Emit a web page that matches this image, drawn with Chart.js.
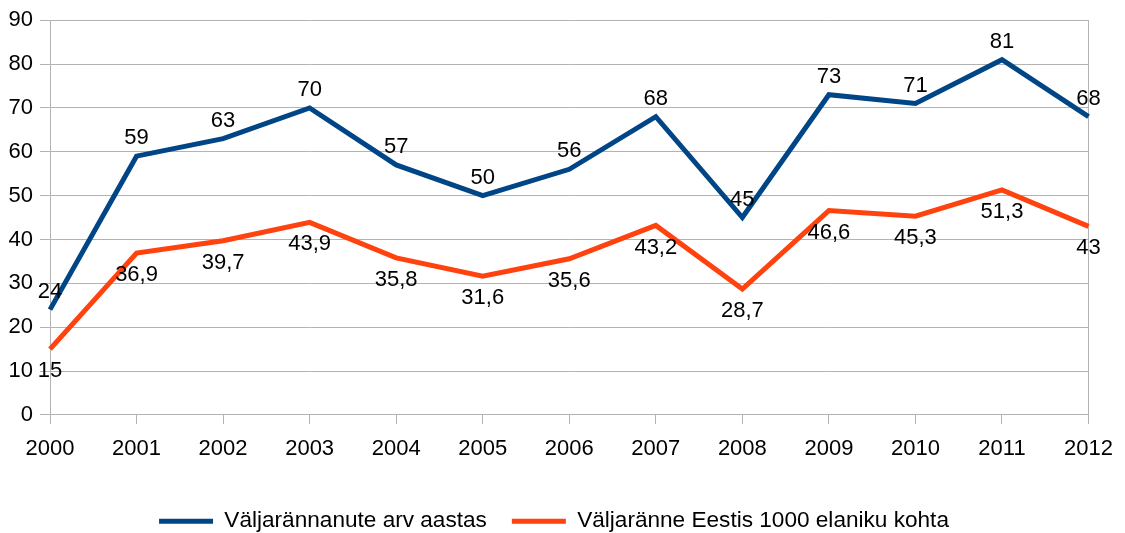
<!DOCTYPE html>
<html>
<head>
<meta charset="utf-8">
<script src="https://cdn.jsdelivr.net/npm/chart.js@4/dist/chart.umd.min.js"></script>
<style>
  html, body { margin: 0; padding: 0; background: #ffffff; }
  #wrap { width: 1125px; height: 533px; }
</style>
</head>
<body>
<div id="wrap"><canvas id="c" width="1125" height="533"></canvas></div>
<script>
const years = ['2000','2001','2002','2003','2004','2005','2006','2007','2008','2009','2010','2011','2012'];
const emigrants = [24, 59, 63, 70, 57, 50, 56, 68, 45, 73, 71, 81, 68];
const per1000 = [15, 36.9, 39.7, 43.9, 35.8, 31.6, 35.6, 43.2, 28.7, 46.6, 45.3, 51.3, 43];
const seriesNames = ['Väljarännanute arv aastas', 'Väljaränne Eestis 1000 elaniku kohta'];
const yTicks = [0, 10, 20, 30, 40, 50, 60, 70, 80, 90];

const FONT = '"Liberation Sans", Arial, sans-serif';
const GRID = '#b3b3b3';

const labelPlugin = {
  id: 'valueLabels',
  afterLayout(chart) {
    // centre the legend row like the reference
    if (chart.legend) { chart.legend.left = 17; }
  },
  afterDatasetsDraw(chart) {
    const ctx = chart.ctx;
    ctx.save();
    ctx.font = '22px ' + FONT;
    ctx.fillStyle = '#000000';
    ctx.textAlign = 'center';
    ctx.textBaseline = 'middle';
    chart.data.datasets.forEach((ds, di) => {
      const meta = chart.getDatasetMeta(di);
      meta.data.forEach((pt, i) => {
        const txt = String(ds.data[i]).replace('.', ',');
        const dy = di === 0 ? -18 : 22;
        ctx.fillText(txt, pt.x, pt.y + dy);
      });
    });
    ctx.restore();
  }
};

new Chart(document.getElementById('c'), {
  type: 'line',
  data: {
    labels: years,
    datasets: [
      { label: seriesNames[0], data: emigrants, borderColor: '#004586', backgroundColor: '#004586',
        borderWidth: 5, pointRadius: 0, tension: 0, fill: false },
      { label: seriesNames[1], data: per1000, borderColor: '#ff420e', backgroundColor: '#ff420e',
        borderWidth: 5, pointRadius: 0, tension: 0, fill: false }
    ]
  },
  options: {
    responsive: false,
    animation: false,
    devicePixelRatio: 1,
    layout: { padding: { top: 20, right: 34, bottom: -9.5, left: 0 } },
    plugins: {
      tooltip: { enabled: false },
      legend: {
        position: 'bottom',
        labels: {
          usePointStyle: true,
          pointStyle: 'line',
          pointStyleWidth: 54,
          padding: 25,
          color: '#000000',
          font: { family: FONT, size: 22.6 }
        }
      }
    },
    scales: {
      x: {
        type: 'category',
        offset: false,
        grid: {
          color: (c) => (c.index === years.length - 1 ? GRID : 'rgba(0,0,0,0)'),
          tickColor: GRID,
          drawOnChartArea: true,
          drawTicks: true,
          tickLength: 9,
          lineWidth: 1
        },
        border: { display: true, color: GRID, width: 1 },
        ticks: { color: '#000000', font: { family: FONT, size: 22 }, padding: 12, maxRotation: 0, autoSkip: false },
        afterFit(scale) { scale.height = 70; }
      },
      y: {
        min: 0,
        max: 90,
        afterBuildTicks(scale) { scale.ticks = yTicks.map(v => ({ value: v })); },
        grid: { color: GRID, tickColor: GRID, tickLength: 10, lineWidth: 1 },
        border: { display: true, color: GRID, width: 1 },
        ticks: { color: '#000000', font: { family: FONT, size: 22 }, padding: 7 },
        afterFit(scale) { scale.width = 50; }
      }
    }
  },
  plugins: [labelPlugin]
});
</script>
</body>
</html>
